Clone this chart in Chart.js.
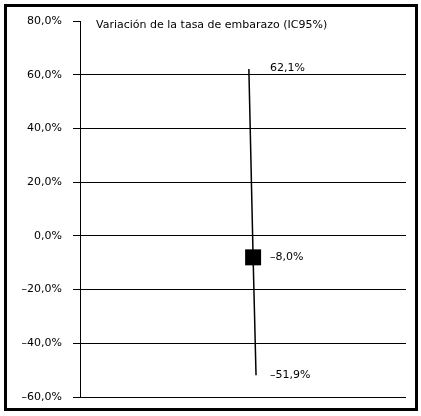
<!DOCTYPE html>
<html>
<head>
<meta charset="utf-8">
<script src="https://cdn.jsdelivr.net/npm/chart.js@4/dist/chart.umd.min.js"></script>
<style>
    html, body { margin: 0; padding: 0; background: #fff; }
    #wrap { position: relative; width: 421px; height: 416px; }
    #frame { position: absolute; left: 4px; top: 4px; width: 414px; height: 407px; border: 3px solid #000; box-sizing: border-box; pointer-events: none; }
    canvas { position: absolute; left: 0; top: 0; }
</style>
</head>
<body>
<div id="wrap">
    <canvas id="ciChart" width="421" height="416"></canvas>
    <div id="frame"></div>
</div>
<script>
// Data
const seriesTitle = 'Variación de la tasa de embarazo (IC95%)';
const pointNames = ['Límite superior', 'Estimación', 'Límite inferior'];
const values = [62.1, -8.0, -51.9];
const xValues = [0.518, 0.531, 0.540];
const yTicks = [80, 60, 40, 20, 0, -20, -40, -60];

const FONT = '"DejaVu Sans", sans-serif';

function fmt(v) {
    const s = Math.abs(v).toFixed(1).replace('.', ',') + '%';
    return v < 0 ? '\u2013' + s : s;
}

// Draw the legend-like title and the value labels next to the points
const labelPlugin = {
    id: 'labelPlugin',
    afterDatasetsDraw(chart) {
        const ctx = chart.ctx;
        const area = chart.chartArea;
        ctx.save();
        ctx.fillStyle = '#000';
        ctx.font = '11px ' + FONT;
        ctx.textBaseline = 'middle';
        ctx.textAlign = 'left';
        ctx.fillText(seriesTitle, area.left + 16, area.top + 4);

        const meta = chart.getDatasetMeta(0);
        const labelX = meta.data[1].x + 17;
        meta.data.forEach(function(pt, i) {
            const dy = i === 0 ? -1 : 0;
            ctx.fillText(fmt(values[i]), labelX, pt.y + dy);
        });
        ctx.restore();
    }
};

document.addEventListener('DOMContentLoaded', function() {
    const ctx = document.getElementById('ciChart').getContext('2d');
    new Chart(ctx, {
        type: 'scatter',
        data: {
            labels: pointNames,
            datasets: [{
                label: seriesTitle,
                data: values.map(function(v, i) { return { x: xValues[i], y: v }; }),
                showLine: true,
                borderColor: '#000',
                borderWidth: 1.5,
                pointStyle: 'rect',
                pointRadius: [0, 11.3, 0],
                pointBackgroundColor: '#000',
                pointBorderColor: '#000',
                pointBorderWidth: 0
            }]
        },
        options: {
            responsive: false,
            animation: false,
            layout: { padding: { left: 0, top: 21, right: 15, bottom: 19 } },
            plugins: {
                legend: { display: false },
                tooltip: { enabled: false }
            },
            scales: {
                x: {
                    type: 'linear',
                    display: false,
                    min: 0,
                    max: 1
                },
                y: {
                    min: -60,
                    max: 80,
                    afterFit: function(scale) { scale.width = 80; },
                    afterBuildTicks: function(scale) {
                        scale.ticks = yTicks.map(function(v) { return { value: v }; });
                    },
                    grid: {
                        color: function(c) { return c.tick && c.tick.value === 80 ? 'rgba(0,0,0,0)' : '#000'; },
                        tickColor: '#000',
                        lineWidth: 1,
                        tickLength: 7
                    },
                    border: { display: true, color: '#000', width: 1 },
                    ticks: {
                        color: '#000',
                        padding: 11,
                        font: { family: FONT, size: 11 },
                        callback: function(v) { return fmt(v); }
                    }
                }
            }
        },
        plugins: [labelPlugin]
    });
});
</script>
</body>
</html>
